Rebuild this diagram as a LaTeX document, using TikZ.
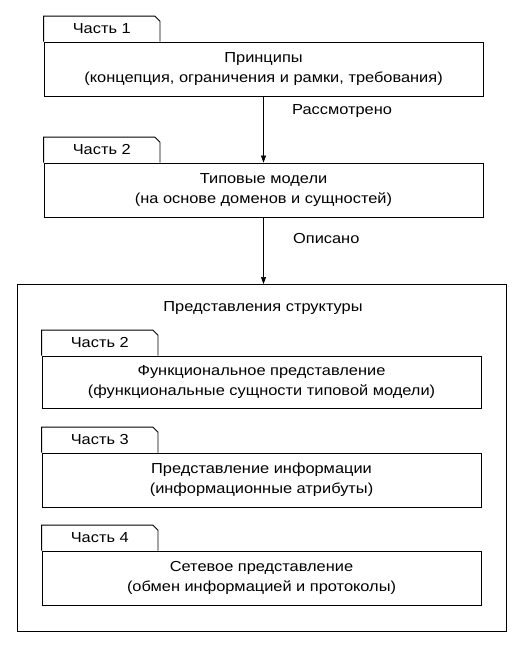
\documentclass[tikz,border=0pt]{standalone}
\usepackage{fontspec}
\setmainfont{Liberation Sans}[FakeStretch = 1.13]
\usetikzlibrary{arrows.meta}
\tikzset{
    partbox/.style = {draw, line width = 0.9pt, minimum width = 439pt, minimum height = 54pt, align = center, inner sep = 0pt},
    parttab/.style = {anchor = south west, minimum width = 116pt, minimum height = 25pt, inner sep = 0pt},
    flow/.style = {line width = 0.6pt, -{Triangle[length = 7pt, width = 5pt]}},
}
\newcommand{\tabfor}[2]{
    \node[parttab] (#1tab) at (#1.north west) {#2};
    \draw[line width = 0.9pt] (#1tab.south west) |- ([xshift = -5pt]#1tab.north east) -- ([yshift = -5pt]#1tab.north east) -- (#1tab.south east);
}
\begin{document}
\begin{tikzpicture}[x = 1pt, y = -1pt, every node/.append style = {font = \fontsize{14.5}{20}\selectfont}]
            \useasboundingbox (0,0) rectangle (529,645);
            \node[partbox] (prin) at (263.5,69) {Принципы\\(концепция, ограничения и рамки, требования)};
            \node[partbox] (model) at (263.5,190) {Типовые модели\\(на основе доменов и сущностей)};
            \tabfor{prin}{Часть 1}
            \tabfor{model}{Часть 2}
            \draw[line width = 0.9pt] (17,284) rectangle (506,631);
            \coordinate (views) at (261.5,284);
            \node (viewstitle) at (263,308) {Представления структуры};
            \node[partbox, minimum height = 52pt] (func) at (261.5,382) {Функциональное представление\\(функциональные сущности типовой модели)};
            \node[partbox] (info) at (261.5,480) {Представление информации\\(информационные атрибуты)};
            \node[partbox] (net) at (261.5,578) {Сетевое представление\\(обмен информацией и протоколы)};
            \tabfor{func}{Часть 2}
            \tabfor{info}{Часть 3}
            \tabfor{net}{Часть 4}
            \draw[flow] (prin.south) -- (model.north) node[pos = 0.22, anchor = west, xshift = 25pt] (seen) {Рассмотрено};
            \draw[flow] (model.south) -- (model.south |- views) node[pos = 0.31, anchor = west, xshift = 26pt] (told) {Описано};
\end{tikzpicture}
\end{document}
